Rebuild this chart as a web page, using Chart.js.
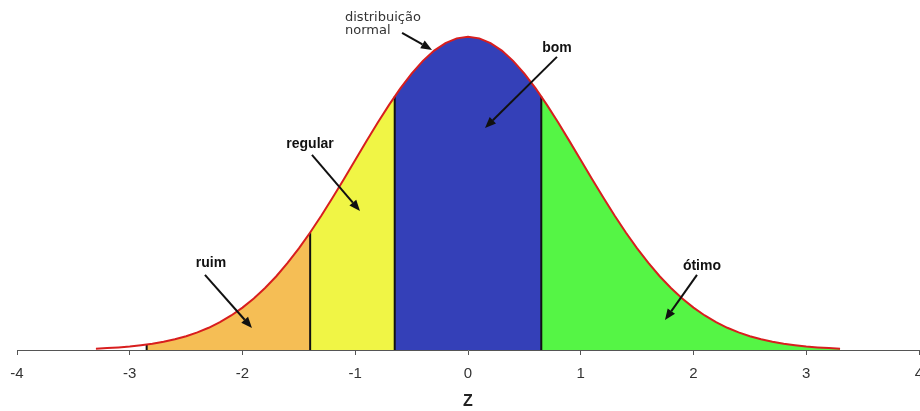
<!DOCTYPE html>
<html>
<head>
<meta charset="utf-8">
<script src="https://cdn.jsdelivr.net/npm/chart.js@4.4.1/dist/chart.umd.min.js"></script>
<style>
html,body{margin:0;padding:0;background:#fff;}
canvas{display:block;}
</style>
</head>
<body>
<canvas id="chart" width="920" height="411"></canvas>
<script>
// curve points
const zValues = [-3.3,-3.2,-3.1,-3.0,-2.9,-2.8,-2.7,-2.6,-2.5,-2.4,-2.3,-2.2,-2.1,-2.0,-1.9,-1.8,-1.7,-1.6,-1.5,-1.4,-1.3,-1.2,-1.1,-1.0,-0.9,-0.8,-0.7,-0.6,-0.5,-0.4,-0.3,-0.2,-0.1,0,
  0.1,0.2,0.3,0.4,0.5,0.6,0.7,0.8,0.9,1.0,1.1,1.2,1.3,1.4,1.5,1.6,1.7,1.8,1.9,2.0,2.1,2.2,2.3,2.4,2.5,2.6,2.7,2.8,2.9,3.0,3.1,3.2,3.3];
const density = [0.0017,0.0024,0.0033,0.0044,0.0060,0.0079,0.0104,0.0136,0.0175,0.0224,0.0283,0.0355,0.0440,0.0540,0.0656,0.0790,0.0940,0.1109,0.1295,0.1497,0.1714,0.1942,0.2179,0.2420,0.2661,0.2897,0.3123,0.3332,0.3521,0.3683,0.3814,0.3910,0.3970,0.3989,
  0.3970,0.3910,0.3814,0.3683,0.3521,0.3332,0.3123,0.2897,0.2661,0.2420,0.2179,0.1942,0.1714,0.1497,0.1295,0.1109,0.0940,0.0790,0.0656,0.0540,0.0440,0.0355,0.0283,0.0224,0.0175,0.0136,0.0104,0.0079,0.0060,0.0044,0.0033,0.0024,0.0017];

// coloured bands under the curve
const bandEdges = [-2.85, -1.4, -0.65, 0.65, 3.3];
const edgeHeights = [0.0069, 0.1497, 0.3230, 0.3230, 0.0017];
const bandNames = ['ruim', 'regular', 'bom', 'ótimo'];
const bandColors = ['#F5BE55', '#F0F545', '#3440B8', '#55F545'];
const xTicks = [-4, -3, -2, -1, 0, 1, 2, 3, 4];

// labels + arrows (data coords)
const notes = [
  {lines:['distribuição','normal'], x:-1.091, y:0.4193, align:'left', bold:false, from:[-0.585,0.404], to:[-0.319,0.3823]},
  {lines:['bom'], x:0.789, y:0.3798, align:'center', bold:true, from:[0.789,0.3734], to:[0.151,0.2829]},
  {lines:['regular'], x:-1.401, y:0.2574, align:'center', bold:true, from:[-1.384,0.2485], to:[-0.958,0.1771]},
  {lines:['ruim'], x:-2.279, y:0.1058, align:'center', bold:true, from:[-2.333,0.0956], to:[-1.916,0.0280]},
  {lines:['ótimo'], x:2.075, y:0.1019, align:'center', bold:true, from:[2.031,0.0956], to:[1.747,0.0382]}
];

const datasets = [];

datasets.push({
  label: 'distribuição normal',
  data: zValues.map((z, i) => ({x: z, y: density[i]})),
  borderColor: '#D81E1E',
  borderWidth: 2,
  pointRadius: 0,
  fill: false,
  clip: false,
  order: 0
});

bandNames.forEach((name, i) => {
  const a = bandEdges[i], b = bandEdges[i + 1];
  const pts = [{x: a, y: edgeHeights[i]}];
  zValues.forEach((z, j) => { if (z > a + 1e-9 && z < b - 1e-9) pts.push({x: z, y: density[j]}); });
  pts.push({x: b, y: edgeHeights[i + 1]});
  datasets.push({
    label: name,
    data: pts,
    borderWidth: 0,
    borderColor: 'rgba(0,0,0,0)',
    backgroundColor: bandColors[i],
    pointRadius: 0,
    fill: 'origin',
    order: 2
  });
});

// black dividers
bandEdges.slice(0, 4).forEach((e, i) => {
  datasets.push({
    label: 'edge' + i,
    data: [{x: e, y: 0}, {x: e, y: edgeHeights[i]}],
    borderColor: '#111',
    borderWidth: 2,
    pointRadius: 0,
    fill: false,
    order: 1
  });
});

function arrow(ctx, x1, y1, x2, y2) {
  const ang = Math.atan2(y2 - y1, x2 - x1);
  const head = 11, half = 4.5;
  const bx = x2 - head * Math.cos(ang), by = y2 - head * Math.sin(ang);
  ctx.beginPath();
  ctx.moveTo(x1, y1);
  ctx.lineTo(bx, by);
  ctx.stroke();
  ctx.beginPath();
  ctx.moveTo(x2, y2);
  ctx.lineTo(bx + half * Math.sin(ang), by - half * Math.cos(ang));
  ctx.lineTo(bx - half * Math.sin(ang), by + half * Math.cos(ang));
  ctx.closePath();
  ctx.fill();
}

const notesPlugin = {
  id: 'notes',
  afterDatasetsDraw(chart) {
    const {ctx, scales: {x, y}} = chart;
    ctx.save();
    notes.forEach(n => {
      ctx.fillStyle = n.bold ? '#111' : '#333';
      ctx.font = n.bold ? 'bold 14px "Liberation Sans"' : '13px "DejaVu Sans"';
      ctx.textAlign = n.align;
      ctx.textBaseline = 'alphabetic';
      const px = x.getPixelForValue(n.x), py = y.getPixelForValue(n.y);
      n.lines.forEach((t, k) => ctx.fillText(t, px, py + k * 13));
      ctx.strokeStyle = '#111';
      ctx.fillStyle = '#111';
      ctx.lineWidth = 2;
      arrow(ctx, x.getPixelForValue(n.from[0]), y.getPixelForValue(n.from[1]),
                 x.getPixelForValue(n.to[0]), y.getPixelForValue(n.to[1]));
    });
    ctx.restore();
  }
};

new Chart(document.getElementById('chart').getContext('2d'), {
  type: 'line',
  data: {datasets},
  plugins: [notesPlugin],
  options: {
    responsive: false,
    animation: false,
    layout: {padding: {top: 36, left: 17, right: 1, bottom: 0}},
    plugins: {legend: {display: false}, tooltip: {enabled: false}},
    elements: {line: {tension: 0}},
    scales: {
      x: {
        type: 'linear',
        min: -4,
        max: 4,
        afterBuildTicks: s => { s.ticks = xTicks.map(v => ({value: v})); },
        afterFit: s => { s.paddingLeft = 0; s.paddingRight = 0; s.height = 61; },
        ticks: {font: {family: 'Liberation Sans', size: 15}, color: '#333', padding: 10},
        grid: {drawOnChartArea: false, tickLength: 5, color: '#555'},
        border: {color: '#555'},
        title: {display: true, text: 'Z', color: '#222', font: {family: 'Liberation Sans', size: 16, weight: 'bold'}, padding: {top: 9, bottom: 0}}
      },
      y: {min: 0, max: 0.4, display: false}
    }
  }
});
</script>
</body>
</html>
